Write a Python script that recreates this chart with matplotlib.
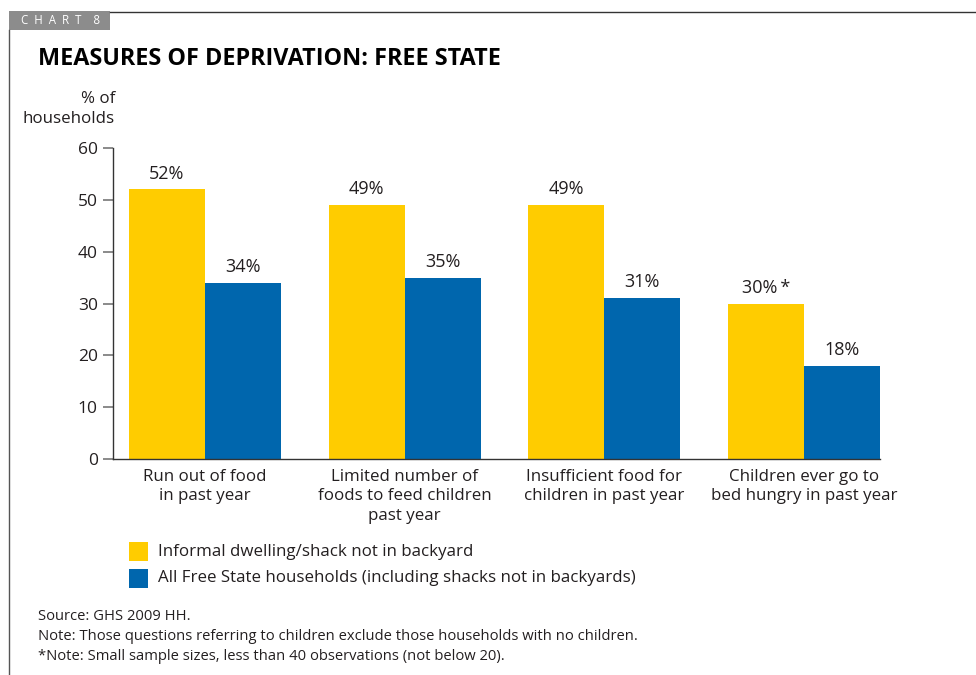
import numpy as np
import matplotlib.pyplot as plt
from matplotlib.patches import Rectangle
from matplotlib.lines import Line2D

plt.rcParams['font.family'] = ['Open Sans', 'DejaVu Sans']

categories = ['Run out of food\nin past year',
              'Limited number of\nfoods to feed children\npast year',
              'Insufficient food for\nchildren in past year',
              'Children ever go to\nbed hungry in past year']
informal = [52, 49, 49, 30]
all_fs = [34, 35, 31, 18]
informal_labels = ['52%', '49%', '49%', '30%\u2009*']
all_fs_labels = ['34%', '35%', '31%', '18%']
series_names = ['Informal dwelling/shack not in backyard',
                'All Free State households (including shacks not in backyards)']
yticks = [0, 10, 20, 30, 40, 50, 60]

YELLOW = '#FFCC00'
BLUE = '#0066AD'
TXT = '#231F20'
W, H = 976, 675

fig = plt.figure(figsize=(9.76, 6.75), dpi=100)

def fx(px):
    return px / W

def fy(py):
    return 1 - py / H

# page frame and "CHART 8" tab
fig.add_artist(Line2D([fx(9), fx(9)], [fy(30), fy(675)], color='#555555', lw=1))
fig.add_artist(Line2D([fx(110), fx(976)], [fy(11.5), fy(11.5)], color='#333333', lw=1))
fig.add_artist(Rectangle((fx(9), fy(30)), fx(101), 19 / H, color='#8C8C8C', lw=0))
fig.text(fx(21), fy(20.5), 'C  H  A  R  T    8', color='white', fontsize=8.3, va='center', ha='left')

fig.text(fx(38), fy(59), 'MEASURES OF DEPRIVATION: FREE STATE', fontsize=16.8, fontweight='bold',
         color='black', va='center', ha='left')
fig.text(fx(115), fy(109), '% of\nhouseholds', fontsize=12.2, color=TXT, ha='right', va='center',
         multialignment='right', linespacing=1.4)

ax = fig.add_axes([fx(113), fy(459), fx(880 - 113), (459 - 148) / H])
x = np.arange(len(categories))
bw = 0.38
b1 = ax.bar(x, informal, width=bw, align='edge', color=YELLOW, lw=0)
b2 = ax.bar(x + bw, all_fs, width=bw, align='edge', color=BLUE, lw=0)

for bars, labels in ((b1, informal_labels), (b2, all_fs_labels)):
    for rect, lab in zip(bars, labels):
        ax.annotate(lab, (rect.get_x() + rect.get_width() / 2, rect.get_height()),
                    xytext=(0, 5), textcoords='offset points', ha='center', va='bottom',
                    fontsize=13, color=TXT)

ax.set_ylim(0, 60)
ax.set_xlim(-(205 - 113) / 200 + bw, 3 + 2 * bw)
ax.set_yticks(yticks)
ax.set_xticks(x + bw)
ax.set_xticklabels(categories, fontsize=12.2, color=TXT, linespacing=1.3)
ax.tick_params(axis='x', length=0, pad=7)
ax.tick_params(axis='y', direction='out', length=7, width=1.2, color='#777777',
               labelsize=12.5, labelcolor=TXT, pad=4)
for s in ('top', 'right'):
    ax.spines[s].set_visible(False)
for s in ('left', 'bottom'):
    ax.spines[s].set_color('#333333')
    ax.spines[s].set_linewidth(1)

# legend
for i, (name, col) in enumerate(zip(series_names, (YELLOW, BLUE))):
    top = 542 + i * 27
    fig.add_artist(Rectangle((fx(129), fy(top + 19)), fx(19), 19 / H, color=col, lw=0))
    fig.text(fx(158), fy(top + 9.5), name, fontsize=12.2, color=TXT, va='center', ha='left')

notes = ['Source: GHS 2009 HH.',
         'Note: Those questions referring to children exclude those households with no children.',
         '*Note: Small sample sizes, less than 40 observations (not below 20).']
for i, n in enumerate(notes):
    fig.text(fx(38), fy(616 + i * 20), n, fontsize=10.6, color=TXT, va='center', ha='left')

fig.savefig('out.png', dpi=100)
